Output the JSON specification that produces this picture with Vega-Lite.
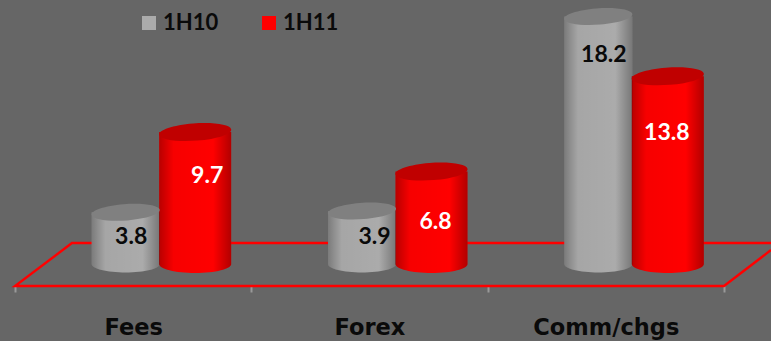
{
  "$schema": "https://vega.github.io/schema/vega-lite/v6.json",
  "width": 771,
  "height": 341,
  "autosize": {"type": "none"},
  "padding": 0,
  "background": "#666666",
  "view": {"stroke": null},
  "config": {"font": "Lato", "text": {"font": "Lato"}},
  "datasets": {
    "bars": [
      {"category": "Fees", "slot": 0.5, "series": "1H10", "value": 3.8},
      {"category": "Fees", "slot": 0.5, "series": "1H11", "value": 9.7},
      {"category": "Forex", "slot": 1.5, "series": "1H10", "value": 3.9},
      {"category": "Forex", "slot": 1.5, "series": "1H11", "value": 6.8},
      {"category": "Comm/chgs", "slot": 2.5, "series": "1H10", "value": 18.2},
      {"category": "Comm/chgs", "slot": 2.5, "series": "1H11", "value": 13.8}
    ],
    "floor": [
      {"seq": 1, "slot": 3.199, "level": 1.03},
      {"seq": 2, "slot": 3, "level": -1.62},
      {"seq": 3, "slot": 0, "level": -1.62},
      {"seq": 4, "slot": 0.241, "level": 1.54},
      {"seq": 5, "slot": 3.199, "level": 1.54}
    ]
  },
  "resolve": {"scale": {"size": "independent"}},
  "encoding": {
    "x": {
      "field": "slot",
      "type": "quantitative",
      "title": null,
      "scale": {"domain": [-0.0635, 3.199], "nice": false, "zero": false, "padding": 0},
      "axis": {
        "orient": "bottom",
        "offset": -55,
        "values": [0, 0.5, 1, 1.5, 2, 2.5, 3],
        "labelExpr": "datum.value === 0.5 ? 'Fees' : datum.value === 1.5 ? 'Forex' : datum.value === 2.5 ? 'Comm/chgs' : ''",
        "domain": false,
        "grid": false,
        "tickColor": "#999999",
        "tickSize": 6,
        "tickWidth": 2,
        "tickOpacity": {"condition": {"test": "datum.value % 1 === 0", "value": 1}, "value": 0},
        "labelAngle": 0,
        "labelFont": "DejaVu Sans",
        "labelFontSize": 22.5,
        "labelFontWeight": "bold",
        "labelColor": "#0a0a0a",
        "labelPadding": 24,
        "labelOverlap": false,
        "labelBound": false,
        "labelFlush": false
      }
    },
    "y": {"field": "value", "type": "quantitative", "scale": {"domain": [-5.66, 19.41], "nice": false, "zero": false}, "axis": null}
  },
  "layer": [
    {
      "data": {"name": "floor"},
      "mark": {"type": "line", "color": "#ff0000", "strokeWidth": 2.4},
      "encoding": {
        "y": {"field": "level", "type": "quantitative"},
        "order": {"field": "seq", "type": "ordinal"}
      }
    },
    {
      "data": {"name": "bars"},
      "mark": {"type": "point", "filled": true, "opacity": 1, "strokeWidth": 0, "shape": "M-1,0 A1,0.25 0 0 0 1,0 Z", "xOffset": {"expr": "datum.series === '1H10' ? -7.5 : 62"}},
      "encoding": {
        "y": {"datum": 0},
        "color": {
          "field": "series",
          "type": "nominal",
          "scale": {"domain": ["1H10", "1H11"], "range": ["#ababab", "#ff0000"]},
          "legend": {
            "orient": "none",
            "legendX": 138,
            "legendY": 12,
            "direction": "horizontal",
            "title": null,
            "symbolType": "square",
            "symbolSize": 196,
            "symbolStrokeWidth": 0,
            "symbolOpacity": 1,
            "labelFontSize": 22,
            "labelFontWeight": "bold",
            "labelColor": "#0a0a0a",
            "labelOffset": 3,
            "columnPadding": 39
          }
        },
        "size": {"field": "series", "type": "nominal", "legend": null, "scale": {"domain": ["1H10", "1H11"], "range": [4624, 5184]}}
      }
    },
    {
      "data": {"name": "bars"},
      "mark": {
        "type": "point", "filled": true, "opacity": 1, "strokeWidth": 0,
        "shape": "M-1,0 A1,0.25 0 0 0 1,0 Z",
        "xOffset": {"expr": "datum.series === '1H10' ? -7.5 : 62"},
        "fill": {"x1": 0, "y1": 0, "x2": 1, "y2": 0, "gradient": "linear", "stops": [
          {"offset": 0, "color": "rgba(0,0,0,0.28)"},
          {"offset": 0.2, "color": "rgba(0,0,0,0.03)"},
          {"offset": 0.75, "color": "rgba(0,0,0,0)"},
          {"offset": 1, "color": "rgba(0,0,0,0.3)"}
        ]}
      },
      "encoding": {
        "y": {"datum": 0},
        "size": {"field": "series", "type": "nominal", "legend": null, "scale": {"domain": ["1H10", "1H11"], "range": [4624, 5184]}}
      }
    },
    {
      "data": {"name": "bars"},
      "mark": {"type": "bar", "orient": "vertical", "opacity": 1, "xOffset": {"expr": "datum.series === '1H10' ? -7.5 : 62"}},
      "encoding": {
        "y2": {"datum": 0},
        "size": {"field": "series", "type": "nominal", "legend": null, "scale": {"domain": ["1H10", "1H11"], "range": [68, 72]}},
        "color": {"field": "series", "type": "nominal"}
      }
    },
    {
      "data": {"name": "bars"},
      "mark": {
        "type": "bar",
        "orient": "vertical",
        "xOffset": {"expr": "datum.series === '1H10' ? -7.5 : 62"},
        "fill": {"x1": 0, "y1": 0, "x2": 1, "y2": 0, "gradient": "linear", "stops": [
          {"offset": 0, "color": "rgba(0,0,0,0.28)"},
          {"offset": 0.2, "color": "rgba(0,0,0,0.03)"},
          {"offset": 0.75, "color": "rgba(0,0,0,0)"},
          {"offset": 1, "color": "rgba(0,0,0,0.3)"}
        ]}
      },
      "encoding": {
        "y2": {"datum": 0},
        "size": {"field": "series", "type": "nominal", "legend": null, "scale": {"domain": ["1H10", "1H11"], "range": [68, 72]}}
      }
    },
    {
      "data": {"name": "bars"},
      "mark": {"type": "point", "filled": true, "opacity": 1, "strokeWidth": 0, "shape": "M-1,0.08 A1,0.24 -4 1 1 1,-0.08 A1,0.24 -4 1 1 -1,0.08 Z", "xOffset": {"expr": "datum.series === '1H10' ? -7.5 : 62"}},
      "encoding": {
        "fill": {"field": "series", "type": "nominal", "legend": null, "scale": {"domain": ["1H10", "1H11"], "range": ["#808080", "#c00000"]}},
        "size": {"field": "series", "type": "nominal", "legend": null, "scale": {"domain": ["1H10", "1H11"], "range": [4624, 5184]}}
      }
    },
    {
      "data": {"name": "bars"},
      "mark": {
        "type": "text",
        "fontSize": 23,
        "fontWeight": "bold",
        "align": "center",
        "baseline": "middle",
        "dx": {"expr": "({'3.8':-2,'9.7':74,'3.9':5,'6.8':66,'18.2':-2,'13.8':61})[datum.value]"},
        "dy": {"expr": "({'3.8':25,'9.7':44,'3.9':26,'6.8':50,'18.2':39,'13.8':57})[datum.value]"}
      },
      "encoding": {
        "text": {"field": "value", "type": "quantitative", "format": ".1f"},
        "color": {"condition": {"test": "datum.series === '1H11'", "value": "#ffffff"}, "value": "#0a0a0a"}
      }
    }
  ]
}
